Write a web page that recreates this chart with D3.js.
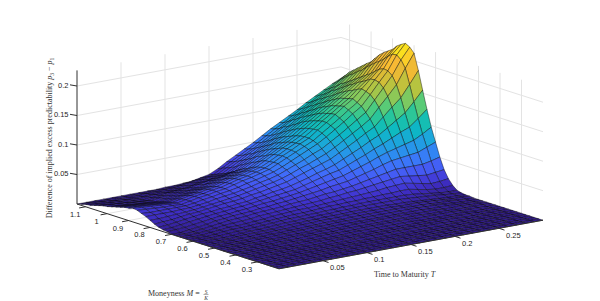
<!DOCTYPE html>
<html>
<head>
<meta charset="utf-8">
<script src="https://cdn.jsdelivr.net/npm/d3@7"></script>
<style>
    html, body { margin: 0; padding: 0; background: #fff; }
    text { font-family: "Liberation Sans", sans-serif; font-size: 7.5px; fill: #262626; }
    .lab, .lab text, .lab tspan { font-family: "Liberation Serif", serif; font-size: 8px; fill: #333; }
    .grid { stroke: #e3e3e3; stroke-width: 1; fill: none; }
    .rule { stroke: #303030; stroke-width: 1; fill: none; }
    .cell { stroke: #000; stroke-width: 0.55; stroke-opacity: 0.75; stroke-linejoin: round; }
</style>
</head>
<body>
<svg id="chart" width="600" height="301"></svg>
<script>
// time to maturity, columns of the surface
let tGrid = [0,.01,.02,.03,.04,.05,.06,.07,.08,.09,.1,.11,.12,.13,.14,.15,.16,.17,.18,.19,.2,.21,.22,.23,.24,.25,.26,.27,.28,.29,.3];
// moneyness, rows of the surface
let mGrid = [.2,.22,.24,.26,.28,.3,.32,.34,.36,.38,.4,.42,.44,.46,.48,.5,.52,.54,.56,.58,.6,.62,.64,.66,.68,.7,.72,.74,.76,.78,.8,.82,.84,.86,.88,.9,.92,.94,.96,.98,1,1.02,1.04,1.06,1.08,1.1,1.12,1.14];
// p3-p1, times 1000. one row per moneyness, one value per maturity
let zGrid = [
[0,0,0,0,0,0,0,0,0,0,0,0,0,0,0,0,0,0,0,0,0,0,0,0,0,0,0,0,0,0,0],
[0,0,0,0,0,0,0,0,0,0,0,0,0,0,0,0,0,0,0,0,0,0,0,0,0,0,0,0,0,0,0],
[0,0,0,0,0,0,0,0,0,0,0,0,0,0,0,0,0,0,0,0,0,0,0,0,0,0,0,0,0,0,0],
[0,0,0,0,0,0,0,0,0,0,0,0,0,0,0,0,0,0,0,0,0,0,0,0,0,0,0,0,0,0,0],
[0,0,0,0,0,0,0,0,0,0,0,0,0,0,0,0,0,0,0,0,0,0,0,0,0,0,0,0,0,0,0],
[0,0,0,0,0,0,0,0,0,0,0,0,0,0,0,0,0,0,0,0,0,0,0,0,0,0,0,0,0,0,0],
[0,0,0,0,0,0,0,0,0,0,0,0,0,0,0,0,0,0,0,0,0,0,0,0,0,0,0,0,0,0,0],
[0,0,0,0,0,0,0,0,0,0,0,0,1,1,1,1,1,1,1,1,1,1,1,0,0,0,0,0,0,0,0],
[0,0,0,0,0,0,0,0,0,0,1,1,1,1,1,1,1,1,1,1,1,1,1,1,1,0,0,0,0,0,0],
[0,0,0,0,0,0,0,0,1,1,1,1,1,1,1,1,1,1,1,1,1,1,1,1,1,1,1,0,0,0,0],
[0,0,0,0,0,0,0,1,1,1,1,1,1,2,2,2,2,2,2,2,2,1,1,1,1,1,1,0,0,0,0],
[0,0,0,0,0,0,1,1,1,1,2,2,2,2,2,3,3,3,3,3,3,2,2,2,2,2,1,1,1,0,0],
[0,0,0,0,0,0,1,1,1,2,2,2,2,3,3,3,3,3,3,3,3,3,3,2,2,2,1,1,1,1,0],
[0,0,0,0,0,0,1,1,2,2,2,3,3,3,3,4,4,4,4,4,4,4,3,3,3,2,2,2,1,1,0],
[0,0,0,0,0,0,1,1,2,2,2,3,3,4,4,4,4,4,4,4,4,4,4,4,3,3,3,2,1,1,0],
[0,0,0,0,0,1,1,2,2,3,3,4,4,4,5,5,5,5,5,5,5,5,5,5,4,4,3,2,1,1,0],
[0,0,0,0,0,1,1,2,2,3,3,4,4,5,5,5,6,6,6,6,6,6,6,5,5,4,3,3,2,1,0],
[0,0,0,0,1,1,2,2,3,3,4,5,5,6,6,6,7,7,7,7,7,7,6,6,6,5,4,3,2,2,1],
[0,0,0,0,1,2,2,3,3,4,5,5,6,6,7,7,7,8,8,8,8,8,7,7,6,5,4,3,2,2,1],
[0,0,0,0,1,2,3,3,4,5,6,6,7,7,8,8,9,9,10,10,10,10,10,10,9,8,7,6,4,3,2],
[0,0,0,1,2,3,3,4,5,6,7,8,8,9,9,10,10,11,11,12,12,12,12,12,12,11,9,7,5,4,4],
[0,0,0,1,3,4,4,5,6,7,8,9,10,10,11,12,13,13,14,14,15,15,16,16,17,17,14,11,9,9,10],
[0,0,0,2,3,5,5,6,7,8,10,11,12,13,13,14,15,16,17,18,19,20,21,23,24,25,22,19,16,17,19],
[0,0,1,2,4,6,7,8,9,11,12,13,14,15,16,17,18,20,21,23,24,26,28,30,32,34,32,30,28,30,32],
[0,0,1,3,5,7,9,10,11,13,14,15,16,18,19,20,22,24,25,27,29,32,35,38,41,44,44,44,44,47,51],
[0,0,2,4,6,9,10,12,13,14,16,17,19,20,22,24,26,28,31,33,35,39,43,47,52,56,58,60,62,68,74],
[2,3,4,6,8,10,12,13,15,16,18,20,21,23,25,27,30,33,36,39,42,47,52,57,63,68,72,76,80,88,97],
[3,4,6,8,10,12,14,15,17,18,20,22,24,26,28,30,34,38,42,46,49,55,61,67,74,80,87,94,100,112,125],
[5,6,8,10,12,14,15,17,18,20,21,24,26,29,31,34,38,42,47,51,56,63,70,77,85,92,102,112,122,138,155],
[8,9,10,12,14,15,17,19,21,22,24,27,29,32,35,38,43,48,53,58,63,71,79,87,96,104,118,132,145,165,186],
[12,12,13,14,15,16,18,20,22,24,26,29,32,35,38,42,47,53,58,64,70,78,87,96,105,115,132,148,165,190,213],
[16,16,16,16,17,17,19,21,24,26,28,31,34,38,41,45,51,57,63,70,76,85,94,104,114,124,142,160,178,202,221],
[19,18,18,18,18,18,20,23,25,28,30,33,37,40,44,48,54,61,68,75,82,91,101,111,122,132,149,167,184,208,225],
[22,21,20,19,19,18,21,24,26,29,31,35,39,42,46,50,57,64,71,78,85,95,105,115,126,136,152,169,185,207,221],
[23,22,21,20,19,18,21,24,26,29,31,35,39,42,46,50,57,65,72,80,87,98,108,119,130,140,154,168,182,201,216],
[21,21,20,19,18,17,20,23,25,28,30,34,38,41,45,49,56,64,72,79,87,97,108,118,128,138,151,163,176,194,208],
[20,19,18,17,16,15,18,21,23,26,28,32,36,39,43,47,55,63,71,78,86,96,106,116,126,136,147,159,170,188,203],
[18,17,16,15,14,13,15,18,20,23,25,29,33,36,40,44,52,60,68,76,84,94,104,114,124,134,144,155,165,183,198],
[16,15,14,13,12,11,13,15,17,20,22,26,29,33,36,40,48,56,65,73,81,91,101,111,120,130,140,150,160,177,192],
[14,13,12,11,10,9,11,13,15,17,19,23,26,30,33,37,45,53,62,70,78,88,98,107,117,126,136,146,155,171,184],
[12,11,10,10,9,8,10,11,13,14,16,19,23,26,30,33,41,50,58,67,75,84,94,103,113,122,131,141,150,164,175],
[11,10,9,8,7,6,8,9,11,12,14,17,20,22,25,28,37,45,54,62,71,80,89,99,108,117,126,136,145,159,170],
[9,8,7,6,6,5,6,7,9,10,11,14,16,19,21,24,33,41,50,58,67,76,85,95,104,113,122,131,140,153,164],
[7,6,6,5,5,4,5,6,6,7,8,10,13,15,18,20,28,37,45,54,62,71,80,90,99,108,117,127,136,148,158],
[5,5,4,4,3,3,3,4,5,5,6,8,10,13,15,17,25,33,42,50,58,67,77,86,95,104,113,121,130,142,152],
[4,3,3,2,2,2,2,3,3,4,4,6,8,10,12,14,22,30,38,46,54,63,72,81,90,99,108,116,125,136,146],
[2,2,1,1,1,1,1,1,2,2,2,3,5,7,9,11,19,27,35,43,51,60,69,77,86,95,103,112,120,129,138],
[0,0,0,0,0,0,0,0,0,0,1,1,2,3,6,9,16,25,33,41,49,58,67,75,83,91,100,108,116,124,131]
];

let mTicks = [.3,.4,.5,.6,.7,.8,.9,1,1.1];
let tTicks = [.05,.1,.15,.2,.25];
let zTicks = [.05,.1,.15,.2];

// parula stops, bottom end a bit darker since the rows are wider here than in the original
let parula = ["#331d8c","#3f2fc8","#4751f0","#3f70fb","#2c8df0","#1da5dd","#0cb8c4","#1cc3a5","#4bcb80","#84c95c","#b5c440","#dcbb35","#f8b934","#fbd226","#f9fb0e"];

let svg = d3.select("#chart");

// oblique projection, each data axis gets two scales (screen x and screen y)
let mRange = [.2, 1.14], tRange = [0, .3], zTop = .2265;
let originX = 279, originY = 268.8;
let tX = d3.scaleLinear().domain(tRange).range([0, 264]);
let tY = d3.scaleLinear().domain(tRange).range([0, -48.6]);
let mX = d3.scaleLinear().domain(mRange).range([0, -202]);
let mY = d3.scaleLinear().domain(mRange).range([0, -64.8]);
let zY = d3.scaleLinear().domain([0, zTop]).range([0, -133.6]);
let colour = d3.scaleSequential(d3.piecewise(d3.interpolateRgb, parula)).domain([0, .225]);

function project(m, t, z) {
    return [originX + tX(t) + mX(m), originY + tY(t) + mY(m) + zY(z)];
}

let line = d3.line();
let mHi = mRange[1], mLo = mRange[0], tHi = tRange[1];

// walls and floor
let gridLines = [];
zTicks.forEach(z => {
    gridLines.push([project(mHi, 0, z), project(mHi, tHi, z), project(mLo, tHi, z)]);
});
tTicks.forEach(t => {
    gridLines.push([project(mLo, t, 0), project(mHi, t, 0), project(mHi, t, zTop)]);
});
mTicks.forEach(m => {
    gridLines.push([project(m, 0, 0), project(m, tHi, 0), project(m, tHi, zTop)]);
});
svg.append("g").selectAll("path").data(gridLines).enter().append("path")
    .attr("class", "grid")
    .attr("d", line);

// surface cells, far ones first so the near ones paint over
let cells = [];
for (let i = mGrid.length - 2; i >= 0; i--) {
    for (let j = tGrid.length - 2; j >= 0; j--) {
        let zs = [zGrid[i][j], zGrid[i + 1][j], zGrid[i + 1][j + 1], zGrid[i][j + 1]];
        cells.push({
            pts: [
                project(mGrid[i], tGrid[j], zs[0] / 1000),
                project(mGrid[i + 1], tGrid[j], zs[1] / 1000),
                project(mGrid[i + 1], tGrid[j + 1], zs[2] / 1000),
                project(mGrid[i], tGrid[j + 1], zs[3] / 1000)
            ],
            z: d3.mean(zs) / 1000
        });
    }
}
svg.append("g").selectAll("path").data(cells).enter().append("path")
    .attr("class", "cell")
    .attr("fill", d => colour(d.z))
    .attr("d", d => line(d.pts) + "Z");

// axis rules
let rules = [
    [project(mHi, 0, 0), project(mHi, 0, zTop)],
    [project(mHi, 0, 0), project(mLo, 0, 0)],
    [project(mLo, 0, 0), project(mLo, tHi, 0)]
];
svg.append("g").selectAll("path").data(rules).enter().append("path")
    .attr("class", "rule")
    .attr("d", line);

// ticks point outward along the other floor axis
zTicks.forEach(z => {
    let p = project(mHi, 0, z);
    svg.append("path").attr("class", "rule").attr("d", line([p, [p[0] - 7, p[1] - 1.2]]));
    svg.append("text").attr("x", p[0] - 8.5).attr("y", p[1] + 1.5)
        .attr("text-anchor", "end").text(z);
});
mTicks.forEach(m => {
    let p = project(m, 0, 0);
    svg.append("path").attr("class", "rule").attr("d", line([p, [p[0] - 6.5, p[1] + 1.2]]));
    svg.append("text").attr("x", p[0] - 10.5).attr("y", p[1] + 10)
        .attr("text-anchor", "middle").text(m);
});
tTicks.forEach(t => {
    let p = project(mLo, t, 0);
    svg.append("path").attr("class", "rule").attr("d", line([p, [p[0] + 5.5, p[1] + 1.8]]));
    svg.append("text").attr("x", p[0] + 7).attr("y", p[1] + 9.5).text(t);
});

// labels
let zLab = svg.append("text").attr("class", "lab")
    .attr("transform", "translate(52,138) rotate(-90)")
    .attr("text-anchor", "middle");
zLab.append("tspan").text("Difference of implied excess predictability ");
zLab.append("tspan").attr("font-style", "italic").text("p");
zLab.append("tspan").attr("dy", 1.5).style("font-size", "5.5px").text("3");
zLab.append("tspan").attr("dy", -1.5).text(" \u2212 ");
zLab.append("tspan").attr("font-style", "italic").text("p");
zLab.append("tspan").attr("dy", 1.5).style("font-size", "5.5px").text("1");

let tLab = svg.append("text").attr("class", "lab").attr("x", 374).attr("y", 277);
tLab.append("tspan").text("Time to Maturity ");
tLab.append("tspan").attr("font-style", "italic").text("T");

let mLab = svg.append("text").attr("class", "lab").attr("x", 148).attr("y", 296);
mLab.append("tspan").text("Moneyness ");
mLab.append("tspan").attr("font-style", "italic").text("M");
mLab.append("tspan").text(" = ");
svg.append("text").attr("class", "lab").attr("x", 206).attr("y", 293.5).attr("text-anchor", "middle")
    .style("font-size", "5.5px").style("font-style", "italic").text("S");
svg.append("text").attr("class", "lab").attr("x", 206).attr("y", 299.5).attr("text-anchor", "middle")
    .style("font-size", "5.5px").style("font-style", "italic").text("K");
svg.append("path").attr("d", "M203.5,294.5H208.5").attr("stroke", "#333").attr("stroke-width", .4);
</script>
</body>
</html>
